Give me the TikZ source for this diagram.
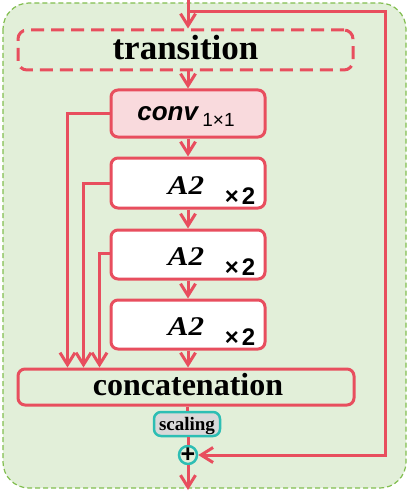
\documentclass[tikz,border=0pt]{standalone}
\usepackage{fontspec}
\setmainfont{Liberation Serif}
\newfontfamily\sansf{Liberation Sans}
\usetikzlibrary{arrows.meta,calc}
\definecolor{rl}{RGB}{232,78,94}
\definecolor{gfill}{RGB}{226,239,217}
\definecolor{gline}{RGB}{130,190,80}
\definecolor{pfill}{RGB}{249,218,221}
\definecolor{teal}{RGB}{45,190,180}
\definecolor{gfil}{RGB}{217,217,217}
\tikzset{
  redline/.style={draw=rl,line width=3pt},
  arr/.style={redline,-{Straight Barb[length=12pt,width=15pt,line width=3pt]}},
  blk/.style={draw=rl,line width=3pt,rounded corners=7pt,fill=white,minimum width=154pt,minimum height=49pt,inner sep=0pt},
  lbl/.style={inner sep=0pt,anchor=base},
}
\begin{document}
\begin{tikzpicture}[x=1pt,y=-1pt]
\useasboundingbox (0,0) rectangle (409,492);
\draw[gline,fill=gfill,dashed,line width=1.2pt,dash pattern=on 5pt off 3pt,rounded corners=26pt] (3,3) rectangle (406,488);
% boxes
\node[draw=rl,line width=3pt,dash pattern=on 13pt off 7pt,rounded corners=9pt,minimum width=335pt,minimum height=40pt,inner sep=0pt] (trans) at (185.5,50) {};
\node[lbl] (transt) at (185.5,60) {\fontsize{35}{35}\selectfont\bfseries transition};
\node[blk,fill=pfill,minimum height=47pt] (conv) at (188,113.5) {};
\node[lbl] (convt) at (186,121) {\sansf\bfseries\itshape\fontsize{26}{26}\selectfont conv\,\raisebox{-6pt}{\fontsize{19}{19}\selectfont\upshape\mdseries 1×1}};
\node[blk,minimum height=50pt] (a1) at (188,183) {};
\node[blk] (a2) at (188,254.5) {};
\node[blk] (a3) at (188,324.5) {};
\foreach \b in {a1,a2,a3}{
  \node[lbl] (\b t) at ([xshift=-2pt,yshift=-11pt]\b.center) {\fontsize{27}{27}\selectfont\bfseries\itshape\scalebox{1.15}[1]{A2}};
  \node[lbl] (\b x) at ([xshift=52pt,yshift=-21pt]\b.center) {\sansf\bfseries\fontsize{24}{24}\selectfont ×\hspace{3pt}2};
}
\node[draw=rl,line width=3pt,rounded corners=7pt,minimum width=336pt,minimum height=36pt,inner sep=0pt] (concat) at (186,387) {};
\node[lbl] (concatt) at (188,395) {\fontsize{32}{32}\selectfont\bfseries concatenation};
\node[draw=teal,fill=gfil,line width=2.5pt,rounded corners=7pt,minimum width=66pt,minimum height=24pt,inner sep=0pt] (scal) at (187,424) {};
\node[lbl] (scalt) at (187,430) {\fontsize{19}{19}\selectfont\bfseries scaling};
\node[circle,draw=teal,line width=2.5pt,minimum size=18pt,inner sep=0pt] (plus) at (188,455) {};
\node[lbl] (plust) at (188,462.5) {\sansf\bfseries\fontsize{25}{25}\selectfont +};
% coordinates
\coordinate (in) at (188,0);
\coordinate (br) at (188,12);
\coordinate (c1) at (385,12);
\coordinate (c2) at (385,455);
\coordinate (out) at (188,490);
% main flow
\draw[arr] (in) -- (trans.north -| in);
\draw[arr] (trans.south -| in) -- (conv.north);
\draw[arr] (conv.south) -- (a1.north);
\draw[arr] (a1.south) -- (a2.north);
\draw[arr] (a2.south) -- (a3.north);
\draw[arr] (a3.south) -- (concat.north -| a3.south);
\draw[redline] (concat.south -| scal.north) -- (scal.north);
\draw[redline] (scal.south -| plus.north) -- (plus.north);
\draw[arr] (plus.south) -- (out);
% bypass
\draw[arr] (br) -- (c1) -- (c2) -- (plus.east);
% side branches
\draw[arr] (conv.west) -| ([xshift=51pt]concat.north west);
\draw[arr] (a1.west) -| ([xshift=67pt]concat.north west);
\draw[arr] ([yshift=1.5pt]a2.west) -| ([xshift=83pt]concat.north west);
\end{tikzpicture}
\end{document}
